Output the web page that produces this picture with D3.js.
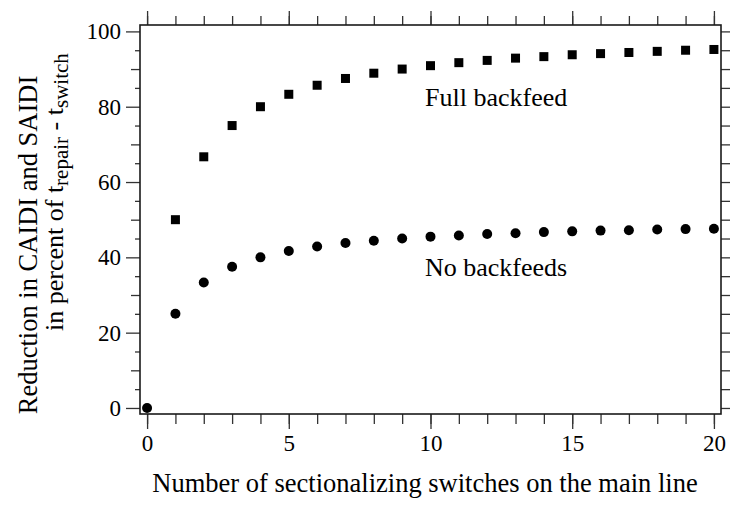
<!DOCTYPE html>
<html><head><meta charset="utf-8">
<script src="https://cdn.jsdelivr.net/npm/d3@7"></script>
<style>
body{margin:0;background:#fff}
svg text{font-family:"Liberation Serif",Tinos,"Times New Roman",Times,serif;fill:#000}
</style>
</head><body>
<svg id="c" width="730" height="507"></svg>
<script>
// Data
const switchesFull = [1,2,3,4,5,6,7,8,9,10,11,12,13,14,15,16,17,18,19,20];
const fullBackfeed = [50,66.7,75,80,83.3,85.7,87.5,88.9,90,90.9,91.7,92.3,92.9,93.3,93.8,94.1,94.4,94.7,95,95.2];
const switchesNo = [0,1,2,3,4,5,6,7,8,9,10,11,12,13,14,15,16,17,18,19,20];
const noBackfeeds = [0,25,33.3,37.5,40,41.7,42.9,43.8,44.4,45,45.5,45.8,46.2,46.4,46.7,46.9,47.1,47.2,47.4,47.5,47.6];
const xMajorTicks = [0,5,10,15,20];
const xMinorTicks = [0,1,2,3,4,5,6,7,8,9,10,11,12,13,14,15,16,17,18,19,20];
const yMajorTicks = [0,20,40,60,80,100];
const yMidTicks = [10,30,50,70,90];
const yMinorTicks = [5,15,25,35,45,55,65,75,85,95];
const yAllTicks = [0,5,10,15,20,25,30,35,40,45,50,55,60,65,70,75,80,85,90,95,100];

const FONT = '"Liberation Serif", Tinos, "Times New Roman", Times, serif';
const svg = d3.select("#c").attr("font-family", FONT);
const L = 140, R = 721, T = 25, B = 414;
const x = d3.scaleLinear().domain([-0.25, 20.25]).range([L, R]);
const y = d3.scaleLinear().domain([-1.6, 101.7]).range([B, T]);

const tickColor = "#333";
function styleAxis(g){
  g.attr("font-family", FONT);
  g.select(".domain").remove();
  g.selectAll(".tick line").attr("stroke", tickColor).attr("stroke-width", 1.3);
  g.selectAll(".tick text").attr("font-size", 23);
}

svg.append("g").attr("transform", `translate(0,${B})`)
  .call(d3.axisBottom(x).tickValues(xMinorTicks).tickSize(10).tickFormat(""))
  .call(styleAxis);
svg.append("g").attr("transform", `translate(0,${B})`)
  .call(d3.axisBottom(x).tickValues(xMajorTicks).tickSize(15).tickPadding(6).tickFormat(d3.format("d")))
  .call(styleAxis);
svg.append("g").attr("transform", `translate(0,${T})`)
  .call(d3.axisTop(x).tickValues(xMinorTicks).tickSize(9).tickFormat(""))
  .call(styleAxis);
svg.append("g").attr("transform", `translate(0,${T})`)
  .call(d3.axisTop(x).tickValues(xMajorTicks).tickSize(14).tickFormat(""))
  .call(styleAxis);
svg.append("g").attr("transform", `translate(${L},0)`)
  .call(d3.axisLeft(y).tickValues(yMinorTicks).tickSize(5).tickFormat(""))
  .call(styleAxis);
svg.append("g").attr("transform", `translate(${L},0)`)
  .call(d3.axisLeft(y).tickValues(yMidTicks).tickSize(9).tickFormat(""))
  .call(styleAxis);
svg.append("g").attr("transform", `translate(${L},0)`)
  .call(d3.axisLeft(y).tickValues(yMajorTicks).tickSize(14).tickPadding(5).tickFormat(d3.format("d")))
  .call(styleAxis);
svg.append("g").attr("transform", `translate(${R},0)`)
  .call(d3.axisRight(y).tickValues(yAllTicks).tickSize(10).tickFormat(""))
  .call(styleAxis);

svg.append("rect").attr("x", L).attr("y", T).attr("width", R - L).attr("height", B - T)
  .attr("fill", "none").attr("stroke", "#1a1a1a").attr("stroke-width", 1.6);

const sq = 9;
svg.append("g").selectAll("rect").data(switchesFull.map((s,i)=>[s, fullBackfeed[i]]))
  .join("rect")
  .attr("x", d => x(d[0]) - sq/2).attr("y", d => y(d[1]) - sq/2)
  .attr("width", sq).attr("height", sq).attr("fill", "#000");
svg.append("g").selectAll("circle").data(switchesNo.map((s,i)=>[s, noBackfeeds[i]]))
  .join("circle")
  .attr("cx", d => x(d[0])).attr("cy", d => y(d[1])).attr("r", 5).attr("fill", "#000");

svg.append("text").attr("x", 425).attr("y", 106).attr("font-size", 26).text("Full backfeed");
svg.append("text").attr("x", 425).attr("y", 276).attr("font-size", 26).text("No backfeeds");

svg.append("text").attr("x", 425).attr("y", 492).attr("text-anchor", "middle")
  .attr("font-size", 26.5).text("Number of sectionalizing switches on the main line");

const yt = svg.append("g").attr("transform", "rotate(-90)");
yt.append("text").attr("x", -245).attr("y", 37).attr("text-anchor", "middle").attr("font-size", 26.5)
  .text("Reduction in CAIDI and SAIDI");
const t2 = yt.append("text").attr("x", -331).attr("y", 63).attr("text-anchor", "start").attr("font-size", 26);
t2.append("tspan").text("in percent of t");
t2.append("tspan").attr("font-size", 21).attr("dy", 5).text("repair");
t2.append("tspan").attr("dy", -5).text(" - t");
t2.append("tspan").attr("font-size", 21).attr("dy", 5).text("switch");
</script>
</body></html>
